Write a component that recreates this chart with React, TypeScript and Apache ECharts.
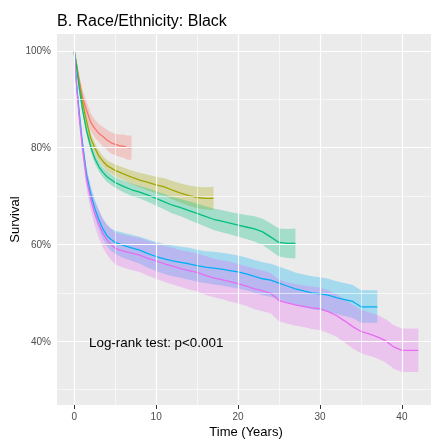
import React, { useEffect, useRef } from "react";
import * as echarts from "echarts";

// ---- data (time in years, survival in %) ----
const redTime = [0, 0.3, 0.6, 1, 1.5, 2, 2.5, 3, 3.5, 4, 4.5, 5, 5.5, 6, 6.5, 7];
const redSurv = [100, 97, 94, 90.5, 87.8, 85.3, 84, 83, 82.3, 81.6, 81.0, 80.7, 80.4, 80.3, 80.0, 80.0];
const redLower = [100, 96, 92.7, 89, 86, 83.5, 82.1, 81.1, 80.3, 79.5, 78.8, 78.5, 78.1, 77.9, 77.5, 77.5];
const redUpper = [100, 98, 95.3, 92, 89.6, 87.1, 85.9, 84.9, 84.3, 83.7, 83.2, 82.9, 82.7, 82.7, 82.5, 82.5];

const oliveTime = [0, 0.3, 0.6, 1, 1.5, 2, 2.5, 3, 3.5, 4, 5, 6, 7, 8, 9, 10, 11, 12, 13, 14, 15, 16, 17];
const oliveSurv = [100, 97, 93.5, 89.5, 85.5, 82, 80, 78.3, 77.2, 76.3, 75.3, 74.6, 73.9, 73.3, 72.8, 72.3, 71.9, 71.2, 70.6, 70.1, 69.7, 69.5, 69.5];
const oliveLower = [100, 96.4, 92.7, 88.6, 84.5, 80.9, 78.9, 77.2, 76.1, 75.2, 74.1, 73.3, 72.5, 71.8, 71.2, 70.6, 70.1, 69.3, 68.6, 68.0, 67.5, 67.2, 67.1];
const oliveUpper = [100, 97.6, 94.3, 90.4, 86.5, 83.1, 81.1, 79.4, 78.3, 77.4, 76.5, 75.9, 75.3, 74.8, 74.4, 74.0, 73.7, 73.1, 72.6, 72.2, 71.9, 71.8, 71.9];

const greenTime = [0, 0.3, 0.6, 1, 1.5, 2, 2.5, 3, 3.5, 4, 5, 6, 7, 8, 9, 10, 11, 12, 13, 14, 15, 16, 17, 18, 19, 20, 21, 22, 23, 24, 25, 26, 27];
const greenSurv = [100, 96.5, 92.5, 88, 83.6, 80.3, 77.8, 76.1, 74.9, 74.0, 72.8, 72.0, 71.3, 70.8, 70.2, 69.5, 68.8, 68.1, 67.6, 67.0, 66.4, 65.8, 65.2, 64.8, 64.4, 64.0, 63.6, 63.2, 62.6, 61.5, 60.4, 60.2, 60.2];
const greenLower = [100, 96.0, 91.8, 87.2, 82.7, 79.3, 76.8, 75.1, 73.9, 72.9, 71.7, 70.8, 70.0, 69.5, 68.8, 68.0, 67.2, 66.4, 65.8, 65.1, 64.4, 63.7, 63.0, 62.5, 62.1, 61.6, 61.1, 60.6, 59.9, 58.7, 57.5, 57.2, 57.1];
const greenUpper = [100, 97.0, 93.2, 88.8, 84.5, 81.3, 78.8, 77.1, 75.9, 75.1, 73.9, 73.2, 72.6, 72.1, 71.6, 71.0, 70.4, 69.8, 69.4, 68.9, 68.4, 67.9, 67.4, 67.1, 66.7, 66.4, 66.1, 65.8, 65.3, 64.3, 63.3, 63.2, 63.3];

const blueTime = [0, 0.3, 0.6, 1, 1.5, 2, 2.5, 3, 3.5, 4, 4.5, 5, 6, 7, 8, 9, 10, 11, 12, 13, 14, 15, 16, 17, 18, 19, 20, 21, 22, 23, 24, 25, 26, 27, 28, 29, 30, 31, 32, 33, 34, 35, 36, 37];
const blueSurv = [100, 93, 87.5, 81, 74.5, 70.5, 67.5, 65.2, 63.2, 61.8, 61.0, 60.4, 59.8, 59.3, 58.8, 58.1, 57.5, 57.0, 56.6, 56.3, 56.0, 55.6, 55.3, 55.1, 54.9, 54.6, 54.3, 53.9, 53.4, 52.9, 52.6, 52.0, 51.4, 50.8, 50.4, 50.0, 49.8, 49.5, 49.0, 48.6, 48.2, 47.1, 47.1, 47.1];
const blueLower = [100, 92.2, 86.5, 79.8, 73.1, 68.9, 65.7, 63.2, 61.1, 59.6, 58.7, 58.0, 57.2, 56.6, 56.0, 55.2, 54.5, 53.9, 53.4, 53.1, 52.7, 52.3, 52.0, 51.7, 51.5, 51.2, 50.9, 50.5, 50.0, 49.5, 49.2, 48.6, 48.0, 47.4, 47.0, 46.6, 46.4, 46.1, 45.6, 45.2, 44.8, 43.8, 43.8, 43.8];
const blueUpper = [100, 93.8, 88.5, 82.2, 75.9, 72.1, 69.3, 67.2, 65.3, 64.0, 63.3, 62.8, 62.4, 62.0, 61.6, 61.0, 60.5, 60.1, 59.8, 59.5, 59.3, 58.9, 58.6, 58.5, 58.3, 58.0, 57.7, 57.3, 56.8, 56.3, 56.0, 55.4, 54.8, 54.2, 53.8, 53.4, 53.2, 52.9, 52.4, 52.0, 51.6, 50.5, 50.5, 50.5];

const magentaTime = [0, 0.3, 0.6, 1, 1.5, 2, 2.5, 3, 3.5, 4, 4.5, 5, 6, 7, 8, 9, 10, 11, 12, 13, 14, 15, 16, 17, 18, 19, 20, 21, 22, 23, 24, 25, 26, 27, 28, 29, 30, 31, 32, 33, 34, 35, 36, 37, 38, 39, 40, 41, 42];
const magentaSurv = [100, 92.5, 86.5, 80, 73.5, 69.5, 66.5, 64.2, 62.3, 61.0, 60.0, 59.2, 58.6, 58.2, 57.8, 57.1, 56.6, 56.0, 55.5, 55.0, 54.6, 54.2, 53.6, 53.1, 52.7, 52.3, 51.9, 51.4, 50.8, 50.4, 49.9, 48.4, 47.9, 47.5, 47.2, 46.9, 46.7, 46.1, 45.3, 44.2, 43.0, 42.0, 41.5, 40.9, 40.1, 38.8, 38.1, 38.1, 38.1];
const magentaLower = [100, 91.5, 85.2, 78.4, 71.5, 67.2, 63.9, 61.4, 59.3, 57.9, 56.8, 55.9, 55.2, 54.7, 54.3, 53.5, 52.9, 52.3, 51.7, 51.2, 50.7, 50.3, 49.6, 49.1, 48.7, 48.2, 47.8, 47.3, 46.6, 46.2, 45.7, 44.1, 43.6, 43.2, 42.9, 42.5, 42.3, 41.7, 40.9, 39.7, 38.5, 37.5, 37.0, 36.4, 35.6, 34.3, 33.6, 33.6, 33.6];
const magentaUpper = [100, 93.5, 87.8, 81.6, 75.5, 71.8, 69.1, 67.0, 65.3, 64.1, 63.2, 62.5, 62.0, 61.7, 61.3, 60.7, 60.3, 59.7, 59.3, 58.8, 58.5, 58.1, 57.6, 57.1, 56.7, 56.4, 56.0, 55.5, 55.0, 54.6, 54.1, 52.7, 52.2, 51.8, 51.5, 51.3, 51.1, 50.5, 49.7, 48.7, 47.5, 46.5, 46.0, 45.4, 44.6, 43.3, 42.6, 42.6, 42.6];

const xTickValues = [0, 10, 20, 30, 40];
const xMinorGrid = [5, 15, 25, 35];
const yTickValues = [40, 60, 80, 100];
const yMinorGrid = [30, 50, 70, 90];

const TITLE = "B. Race/Ethnicity: Black";
const Y_NAME = "Survival";
const X_NAME = "Time (Years)";
const PVAL_TEXT = "Log-rank test: p<0.001";

const FONT = '"Liberation Sans", Arial, Helvetica, sans-serif';

const groups = [
  { key: "red", color: "#F8766D", time: redTime, surv: redSurv, lo: redLower, hi: redUpper },
  { key: "olive", color: "#A3A500", time: oliveTime, surv: oliveSurv, lo: oliveLower, hi: oliveUpper },
  { key: "green", color: "#00BF7D", time: greenTime, surv: greenSurv, lo: greenLower, hi: greenUpper },
  { key: "blue", color: "#00B0F6", time: blueTime, surv: blueSurv, lo: blueLower, hi: blueUpper },
  { key: "magenta", color: "#E76BF3", time: magentaTime, surv: magentaSurv, lo: magentaLower, hi: magentaUpper },
];

export default function App() {
  const ref = useRef<HTMLDivElement>(null);

  useEffect(() => {
    if (!ref.current) return;
    const chart = echarts.init(ref.current, null, { renderer: "svg" });

    const gridLines: any[] = [];
    yMinorGrid.forEach((v) => gridLines.push({ yAxis: v, lineStyle: { color: "#ffffff", width: 0.6, type: "solid" } }));
    xMinorGrid.forEach((v) => gridLines.push({ xAxis: v, lineStyle: { color: "#ffffff", width: 0.6, type: "solid" } }));
    yTickValues.forEach((v) => gridLines.push({ yAxis: v, lineStyle: { color: "#ffffff", width: 1.2, type: "solid" } }));
    xTickValues.forEach((v) => gridLines.push({ xAxis: v, lineStyle: { color: "#ffffff", width: 1.2, type: "solid" } }));

    const series: any[] = [];
    // host for the panel grid lines (drawn beneath everything)
    series.push({
      type: "line",
      name: "grid",
      data: [[0, 100]],
      symbol: "none",
      silent: true,
      lineStyle: { opacity: 0 },
      z: 1,
      markLine: { silent: true, symbol: ["none", "none"], label: { show: false }, data: gridLines },
    });
    // confidence bands as polygons through the axes' scales
    groups.forEach((g) => {
      series.push({
        type: "custom",
        name: g.key + "-band",
        data: [[g.time[0], g.surv[0]]],
        encode: { x: 0, y: 1 },
        silent: true,
        z: 2,
        renderItem: (_params: any, api: any) => {
          const pts: number[][] = [];
          for (let j = 0; j < g.time.length; j++) pts.push(api.coord([g.time[j], g.hi[j]]));
          for (let j = g.time.length - 1; j >= 0; j--) pts.push(api.coord([g.time[j], g.lo[j]]));
          return {
            type: "polygon",
            shape: { points: pts },
            style: { fill: g.color, opacity: 0.3, stroke: "none" },
          };
        },
      });
    });
    groups.forEach((g) => {
      series.push({
        type: "line",
        name: g.key,
        data: g.time.map((t, j) => [t, g.surv[j]]),
        symbol: "none",
        silent: true,
        lineStyle: { color: g.color, width: 1.3 },
        z: 3,
      });
    });

    chart.setOption({
      animation: false,
      grid: {
        left: 57,
        right: 0,
        top: 34,
        bottom: 36,
        show: true,
        backgroundColor: "#EBEBEB",
        borderWidth: 0,
      },
      xAxis: {
        type: "value",
        min: -2.1,
        max: 43.55,
        splitLine: { show: false },
        axisLine: { show: false },
        axisTick: { show: true, customValues: xTickValues, length: 4, lineStyle: { color: "#333333" } },
        axisLabel: { customValues: xTickValues, color: "#4D4D4D", fontSize: 10, margin: 6, fontFamily: FONT },
      },
      yAxis: {
        type: "value",
        min: 26.8,
        max: 103.5,
        splitLine: { show: false },
        axisLine: { show: false },
        axisTick: { show: true, customValues: yTickValues, length: 4, lineStyle: { color: "#333333" } },
        axisLabel: {
          customValues: yTickValues,
          color: "#4D4D4D",
          fontSize: 10,
          margin: 6,
          fontFamily: FONT,
          formatter: (v: number) => v + "%",
        },
      },
      graphic: [
        {
          type: "text",
          x: 57,
          y: 20,
          style: { text: TITLE, font: `16px ${FONT}`, fill: "#000000", align: "left", verticalAlign: "middle" },
        },
        {
          type: "text",
          x: 14,
          y: 219.5,
          rotation: Math.PI / 2,
          style: { text: Y_NAME, font: `13px ${FONT}`, fill: "#000000", align: "center", verticalAlign: "middle" },
        },
        {
          type: "text",
          x: 246,
          y: 431,
          style: { text: X_NAME, font: `13px ${FONT}`, fill: "#000000", align: "center", verticalAlign: "middle" },
        },
        {
          type: "text",
          x: 89,
          y: 342,
          z: 10,
          style: { text: PVAL_TEXT, font: `13.4px ${FONT}`, fill: "#000000", align: "left", verticalAlign: "middle" },
        },
      ],
      series,
    });

    return () => chart.dispose();
  }, []);

  return <div ref={ref} style={{ position: "fixed", left: 0, top: 0, width: 431, height: 441 }} />;
}
